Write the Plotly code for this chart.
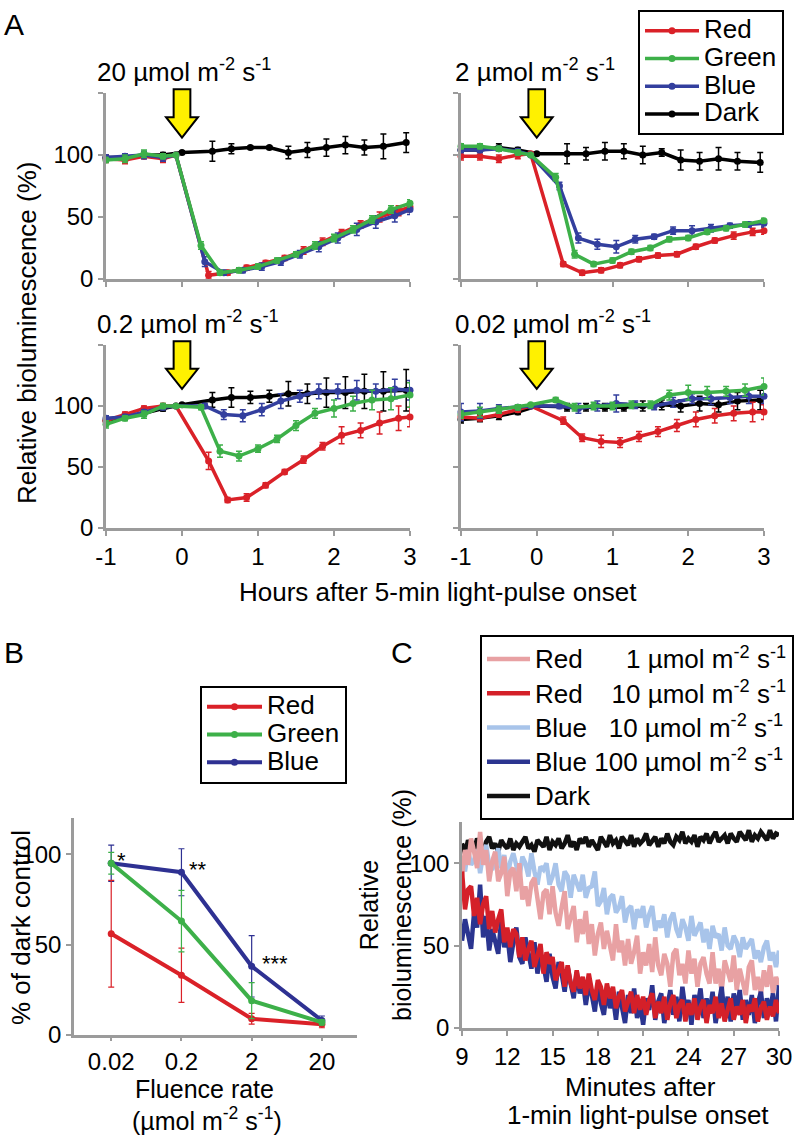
import plotly.graph_objects as go

W, H = 796, 1137
FONT = "Liberation Sans, Arial, Helvetica, sans-serif"
RED, GREEN, BLUE, DARK = "#DA2128", "#3DB049", "#333F9E", "#000000"
GREY = "#9B9B9B"
YELLOW = "#FFF100"

# ---------------- Panel A data (hours after pulse onset, % bioluminescence) ----------------
hours_red = [-1.0, -0.75, -0.5, -0.25, -0.08, 0.35, 0.6, 0.85, 1.1, 1.35, 1.6, 1.85, 2.1, 2.35, 2.6, 2.85, 3.0]
hours_green = [-1.0, -0.75, -0.5, -0.25, -0.08, 0.25, 0.5, 0.75, 1.0, 1.25, 1.5, 1.75, 2.0, 2.25, 2.5, 2.75, 3.0]
hours_blue = [-1.0, -0.75, -0.5, -0.25, -0.08, 0.3, 0.55, 0.8, 1.05, 1.3, 1.55, 1.8, 2.05, 2.3, 2.55, 2.8, 3.0]
hours_dark = [-1.0, -0.75, -0.5, -0.25, 0.0, 0.4, 0.65, 0.9, 1.15, 1.4, 1.65, 1.9, 2.15, 2.4, 2.65, 2.95]
hour_ticks = [-1, 0, 1, 2, 3]
hour_labels = ["-1", "0", "1", "2", "3"]

# 20 umol m-2 s-1
red_20 = [97, 96, 99, 97, 100, 3, 5, 9, 13, 17, 23, 30, 37, 44, 50, 55, 58]
red_20_err = [3, 3, 2, 3, 1, 3, 2, 2, 2, 2, 3, 3, 3, 3, 4, 4, 4]
green_20 = [96, 97, 101, 99, 100, 27, 5, 7, 10, 15, 20, 27, 33, 40, 48, 56, 61]
green_20_err = [2, 3, 3, 2, 1, 3, 2, 2, 2, 2, 2, 3, 3, 3, 3, 3, 3]
blue_20 = [98, 99, 100, 98, 100, 14, 5, 7, 10, 14, 20, 26, 33, 40, 46, 51, 56]
blue_20_err = [2, 2, 3, 3, 1, 4, 2, 2, 3, 3, 3, 4, 4, 5, 5, 5, 4]
dark_20 = [98, 98, 100, 100, 102, 103, 105, 106, 106, 102, 104, 106, 108, 106, 107, 110]
dark_20_err = [2, 2, 2, 2, 1, 8, 4, 1, 1, 5, 6, 7, 7, 6, 10, 8]

# 2 umol m-2 s-1
red_2 = [99, 99, 97, 100, 101, 12, 5, 7, 11, 16, 19, 20, 26, 31, 35, 38, 39]
red_2_err = [3, 3, 3, 3, 1, 2, 2, 2, 2, 2, 2, 2, 2, 2, 3, 3, 3]
green_2 = [107, 107, 105, 102, 100, 82, 20, 12, 15, 22, 25, 32, 33, 38, 41, 44, 47]
green_2_err = [2, 2, 2, 2, 1, 3, 3, 2, 2, 2, 2, 2, 2, 2, 2, 2, 2]
blue_2 = [104, 104, 105, 103, 100, 75, 33, 28, 26, 32, 34, 39, 39, 41, 43, 44, 45]
blue_2_err = [2, 2, 2, 2, 1, 3, 4, 4, 5, 3, 2, 3, 4, 3, 2, 2, 3]
dark_2 = [104, 104, 106, 104, 101, 101, 101, 103, 103, 100, 102, 96, 95, 97, 95, 94]
dark_2_err = [2, 2, 3, 2, 1, 8, 5, 7, 6, 7, 3, 8, 7, 9, 7, 8]

# 0.2 umol m-2 s-1
red_02 = [88, 93, 98, 100, 100, 55, 23, 25, 35, 46, 56, 67, 76, 80, 86, 90, 91]
red_02_err = [2, 2, 2, 2, 1, 7, 2, 3, 2, 2, 3, 3, 7, 6, 9, 10, 8]
green_02 = [85, 90, 93, 100, 100, 99, 63, 59, 65, 73, 84, 94, 98, 102, 105, 106, 109]
green_02_err = [3, 2, 3, 2, 1, 2, 5, 4, 3, 3, 4, 4, 7, 6, 8, 9, 10]
blue_02 = [90, 91, 95, 99, 100, 100, 93, 92, 97, 104, 108, 112, 112, 113, 112, 114, 113]
blue_02_err = [2, 2, 2, 2, 1, 2, 4, 5, 5, 6, 5, 6, 6, 8, 6, 8, 8]
dark_02 = [88, 91, 94, 98, 101, 105, 107, 107, 108, 110, 110, 111, 111, 112, 112, 113]
dark_02_err = [2, 2, 2, 2, 1, 6, 8, 5, 5, 10, 8, 12, 13, 14, 16, 17]

# 0.02 umol m-2 s-1
red_002 = [91, 90, 93, 97, 100, 88, 74, 71, 70, 75, 79, 84, 89, 92, 94, 95, 95]
red_002_err = [2, 2, 2, 2, 1, 3, 3, 5, 4, 4, 4, 5, 6, 6, 6, 8, 6]
green_002 = [93, 95, 97, 99, 101, 105, 99, 100, 100, 101, 101, 109, 111, 111, 112, 113, 116]
green_002_err = [3, 4, 3, 2, 1, 2, 3, 3, 3, 3, 3, 4, 6, 5, 4, 5, 7]
blue_002 = [95, 96, 98, 99, 100, 100, 98, 100, 102, 101, 100, 103, 106, 106, 107, 108, 108]
blue_002_err = [7, 6, 3, 2, 1, 2, 4, 4, 7, 3, 3, 4, 4, 5, 5, 6, 6]
dark_002 = [89, 90, 92, 95, 100, 99, 99, 99, 99, 100, 101, 100, 102, 101, 104, 105]
dark_002_err = [3, 3, 3, 2, 1, 3, 3, 3, 3, 4, 4, 5, 6, 6, 7, 8]

panel_titles = ["20", "2", "0.2", "0.02"]
pulse_onset = 0.0

# ---------------- Panel B data ----------------
fluence = ["0.02", "0.2", "2", "20"]
b_red = [56, 33, 9, 6]
b_red_err = [29.5, 15, 3, 2]
b_green = [95, 63, 19, 7]
b_green_err = [6, 17, 10, 1.5]
b_blue = [95, 90, 38, 8]
b_blue_err = [10, 13, 17, 2.5]
b_stars = ["*", "**", "***"]

# ---------------- Panel C data (minutes after 1-min pulse onset) ----------------
minutes = [9.0, 9.2, 9.4, 9.6, 9.8, 10.0, 10.2, 10.4, 10.6, 10.8,
           11.0, 11.2, 11.4, 11.6, 11.8, 12.0, 12.2, 12.4, 12.6, 12.8,
           13.0, 13.2, 13.4, 13.6, 13.8, 14.0, 14.2, 14.4, 14.6, 14.8,
           15.0, 15.2, 15.4, 15.6, 15.8, 16.0, 16.2, 16.4, 16.6, 16.8,
           17.0, 17.2, 17.4, 17.6, 17.8, 18.0, 18.2, 18.4, 18.6, 18.8,
           19.0, 19.2, 19.4, 19.6, 19.8, 20.0, 20.2, 20.4, 20.6, 20.8,
           21.0, 21.2, 21.4, 21.6, 21.8, 22.0, 22.2, 22.4, 22.6, 22.8,
           23.0, 23.2, 23.4, 23.6, 23.8, 24.0, 24.2, 24.4, 24.6, 24.8,
           25.0, 25.2, 25.4, 25.6, 25.8, 26.0, 26.2, 26.4, 26.6, 26.8,
           27.0, 27.2, 27.4, 27.6, 27.8, 28.0, 28.2, 28.4, 28.6, 28.8,
           29.0, 29.2, 29.4, 29.6, 29.8, 30.0]
minute_ticks = [9, 12, 15, 18, 21, 24, 27, 30]

c_red_1 = [92, 108, 99, 115, 107, 97, 119, 99, 108, 89,
           101, 107, 89, 94, 104, 80, 95, 97, 83, 100,
           78, 86, 74, 88, 91, 77, 66, 82, 84, 69,
           86, 70, 62, 73, 83, 60, 66, 74, 52, 66,
           57, 71, 51, 63, 44, 57, 64, 48, 59, 50,
           41, 63, 46, 53, 38, 54, 39, 46, 56, 33,
           46, 38, 51, 34, 55, 38, 32, 45, 39, 25,
           45, 48, 32, 39, 27, 47, 33, 42, 25, 39,
           43, 33, 27, 46, 27, 36, 22, 41, 33, 28,
           44, 23, 36, 29, 20, 37, 41, 23, 31, 20,
           35, 25, 38, 21, 31, 26]
c_red_10 = [95, 72, 84, 86, 68, 79, 63, 75, 80, 60,
            71, 58, 66, 72, 52, 61, 49, 60, 57, 43,
            55, 41, 48, 53, 37, 44, 51, 33, 46, 39,
            43, 29, 34, 40, 25, 38, 27, 22, 35, 24,
            31, 20, 33, 23, 17, 29, 25, 14, 27, 18,
            25, 12, 19, 23, 10, 16, 22, 9, 20, 11,
            19, 8, 17, 21, 6, 16, 9, 19, 5, 15,
            20, 6, 14, 17, 4, 15, 8, 18, 5, 13,
            17, 3, 14, 9, 19, 6, 15, 4, 12, 18,
            5, 13, 8, 17, 3, 14, 10, 18, 4, 12,
            16, 5, 13, 7, 17, 9]
c_blue_10 = [103, 95, 108, 99, 102, 108, 94, 106, 111, 99,
             96, 104, 109, 97, 105, 91, 101, 106, 97, 91,
             104, 100, 92, 106, 95, 87, 98, 96, 100, 87,
             92, 100, 87, 83, 95, 92, 79, 93, 88, 83,
             93, 79, 85, 86, 95, 74, 77, 85, 69, 79,
             81, 70, 73, 80, 64, 72, 74, 60, 72, 67,
             74, 61, 69, 74, 59, 65, 61, 69, 55, 66,
             70, 60, 55, 66, 61, 53, 68, 56, 60, 64,
             52, 60, 48, 62, 55, 57, 47, 61, 50, 48,
             56, 52, 43, 55, 48, 51, 54, 42, 47, 40,
             49, 53, 41, 46, 37, 47]
c_blue_100 = [53, 66, 57, 48, 70, 61, 87, 55, 68, 47,
              60, 51, 45, 66, 49, 57, 40, 52, 61, 43,
              39, 55, 47, 36, 52, 33, 44, 38, 28, 45,
              31, 24, 40, 33, 22, 37, 27, 18, 34, 21,
              29, 14, 26, 20, 10, 27, 15, 8, 24, 12,
              19, 5, 22, 14, 3, 20, 9, 24, 6, 15,
              2, 18, 11, 26, 5, 16, 21, 3, 14, 23,
              8, 19, 4, 25, 11, 17, 2, 20, 13, 24,
              6, 18, 9, 22, 3, 16, 25, 7, 19, 4,
              21, 12, 23, 5, 17, 8, 20, 3, 15, 22,
              6, 18, 10, 21, 4, 26]
c_dark = [112, 106, 114, 110, 108, 115, 111, 107, 113, 116,
          109, 112, 107, 114, 111, 109, 115, 108, 112, 110,
          113, 116, 109, 111, 107, 114, 112, 110, 116, 108,
          113, 111, 115, 109, 112, 117, 110, 113, 108, 115,
          112, 116, 110, 114, 111, 108, 116, 113, 110, 117,
          112, 114, 109, 116, 113, 111, 117, 110, 115, 112,
          114, 118, 111, 113, 116, 110, 115, 112, 118, 113,
          111, 116, 114, 119, 112, 115, 113, 117, 110, 116,
          114, 118, 112, 116, 119, 113, 115, 117, 112, 118,
          115, 113, 119, 116, 114, 120, 113, 117, 115, 119,
          116, 114, 120, 115, 118, 117]

# ---------------- helpers (layout only) ----------------
def xdom(x0, x1):
    return [x0 / W, x1 / W]

def ydom(top, bottom):
    return [1 - bottom / H, 1 - top / H]

def px(x):
    return x / W

def py(y):
    return 1 - y / H

def axis(**kw):
    d = dict(showline=True, linecolor=GREY, linewidth=2.5, ticks="outside", tickcolor=GREY,
             tickwidth=2, ticklen=5, showgrid=False, zeroline=False, fixedrange=True, automargin=False,
             tickfont=dict(family=FONT, size=24, color="black"))
    d.update(kw)
    return d

UNIT = " µmol m<sup>-2</sup> s<sup>-1</sup>"

def big(s):
    return '<span style="font-size:26px">' + s + '</span>'

fig = go.Figure()

# ---------------- Panel A traces ----------------
panelA = [
    ("x", "y", red_20, red_20_err, green_20, green_20_err, blue_20, blue_20_err, dark_20, dark_20_err),
    ("x2", "y2", red_2, red_2_err, green_2, green_2_err, blue_2, blue_2_err, dark_2, dark_2_err),
    ("x3", "y3", red_02, red_02_err, green_02, green_02_err, blue_02, blue_02_err, dark_02, dark_02_err),
    ("x4", "y4", red_002, red_002_err, green_002, green_002_err, blue_002, blue_002_err, dark_002, dark_002_err),
]
for k, (xa, ya, r, re, g, ge, b, be, d, de) in enumerate(panelA):
    series = [
        ("Dark", hours_dark, d, de, DARK, 4),
        ("Red", hours_red, r, re, RED, 1),
        ("Blue", hours_blue, b, be, BLUE, 3),
        ("Green", hours_green, g, ge, GREEN, 2),
    ]
    for name, xs, ys, es, col, rank in series:
        fig.add_trace(go.Scatter(
            x=xs, y=ys, xaxis=xa, yaxis=ya, mode="lines+markers", name=big(name),
            line=dict(color=col, width=3.5), marker=dict(color=col, size=7),
            error_y=dict(type="data", array=es, color=col, thickness=1.5, width=3),
            showlegend=(k == 0), legend="legend", legendrank=rank, cliponaxis=False,
        ))

# ---------------- Panel B traces ----------------
for name, ys, es, col, rank in [("Blue", b_blue, b_blue_err, "#2E3192", 3),
                                ("Red", b_red, b_red_err, RED, 1),
                                ("Green", b_green, b_green_err, GREEN, 2)]:
    fig.add_trace(go.Scatter(
        x=fluence, y=ys, xaxis="x5", yaxis="y5", mode="lines+markers", name=big(name),
        line=dict(color=col, width=4), marker=dict(color=col, size=7),
        error_y=dict(type="data", array=es, color=col, thickness=1.2, width=3),
        legend="legend2", legendrank=rank, cliponaxis=False,
    ))

# ---------------- Panel C traces ----------------
NB = "\u00a0"
c_series = [
    ("Dark", c_dark, "#111111", 5),
    ("Blue" + NB * 3 + "10" + UNIT, c_blue_10, "#A8C4EA", 3),
    ("Red" + NB * 6 + "1" + UNIT, c_red_1, "#E8A1A3", 1),
    ("Blue" + NB + "100" + UNIT, c_blue_100, "#2B3590", 4),
    ("Red" + NB * 4 + "10" + UNIT, c_red_10, "#D42029", 2),
]
for name, ys, col, rank in c_series:
    fig.add_trace(go.Scatter(
        x=minutes, y=ys, xaxis="x6", yaxis="y6", mode="lines", name=big(name),
        line=dict(color=col, width=4.5), legend="legend3", legendrank=rank,
    ))

# ---------------- Axes ----------------
AX = [(106, 410), (461, 764)]
AY = [(93, 279), (345, 528)]
layout_axes = {}
for k in range(4):
    col, row = k % 2, k // 2
    n = "" if k == 0 else str(k + 1)
    layout_axes["xaxis" + n] = axis(domain=xdom(*AX[col]), range=[-1, 3], tickvals=hour_ticks,
                                    ticktext=hour_labels, showticklabels=(row == 1), anchor="y" + n)
    layout_axes["yaxis" + n] = axis(domain=ydom(*AY[row]), range=[0, 150], tickvals=[0, 50, 100, 150],
                                    ticktext=["0", "50", "100", ""], showticklabels=(col == 0),
                                    anchor="x" + n)
layout_axes["xaxis5"] = axis(domain=xdom(74, 357), type="category", range=[-0.53, 3.5], ticklen=3,
                             categoryorder="array", categoryarray=fluence, anchor="y5")
layout_axes["yaxis5"] = axis(domain=ydom(818, 1035), range=[0, 120], tickvals=[0, 50, 100], anchor="x5")
layout_axes["xaxis6"] = axis(domain=xdom(462, 779), range=[9, 30], tickvals=minute_ticks, anchor="y6")
layout_axes["yaxis6"] = axis(domain=ydom(822, 1028), range=[0, 125], tickvals=[0, 50, 100], anchor="x6")

# ---------------- Arrows (pulse onset markers) ----------------
shapes = []
sw, hw, top, hs, tip = 0.11, 0.21, 1.02, 0.87, 0.76
for k in range(4):
    n = "" if k == 0 else str(k + 1)
    x0 = pulse_onset
    path = (f"M {x0 - sw},{top} L {x0 + sw},{top} L {x0 + sw},{hs} L {x0 + hw},{hs} "
            f"L {x0},{tip} L {x0 - hw},{hs} L {x0 - sw},{hs} Z")
    shapes.append(dict(type="path", path=path, xref="x" + n, yref="y" + n + " domain",
                       fillcolor=YELLOW, line=dict(color="black", width=2), layer="above"))

# ---------------- Annotations ----------------
def text(x, y, s, size=26, xanchor="center", yanchor="middle", angle=0):
    return dict(x=px(x), y=py(y), xref="paper", yref="paper", text=s, showarrow=False,
                xanchor=xanchor, yanchor=yanchor, textangle=angle,
                font=dict(family=FONT, size=size, color="black"))

ann = [
    text(14, 25, "A", size=30),
    text(14, 652, "B", size=30),
    text(402, 652, "C", size=30),
    text(95, 71, panel_titles[0] + UNIT, xanchor="left"),
    text(453, 71, panel_titles[1] + UNIT, xanchor="left"),
    text(95, 322, panel_titles[2] + UNIT, xanchor="left"),
    text(453, 322, panel_titles[3] + UNIT, xanchor="left"),
    text(27, 333, "Relative bioluminescence (%)", angle=-90),
    text(438, 592, "Hours after 5-min light-pulse onset"),
    text(21, 928, "% of dark control", angle=-90),
    text(205, 1089, "Fluence rate", size=25),
    text(207, 1119, "(µmol m<sup>-2</sup> s<sup>-1</sup>)", size=25),
    text(385, 905, "Relative<br>bioluminescence (%)", size=25, angle=-90),
    text(640, 1087, "Minutes after"),
    text(638, 1115, "1-min light-pulse onset"),
]
for i, star in enumerate(b_stars):
    ann.append(dict(x=i, y=b_blue[i], xref="x5", yref="y5", text=star, showarrow=False,
                    xanchor="left", yanchor="middle", xshift=4 + 2 * i, yshift=3,
                    font=dict(family=FONT, size=22, color="black")))

legend_common = dict(bgcolor="white", bordercolor="black", borderwidth=2, xanchor="left", yanchor="top",
                     itemclick=False, itemdoubleclick=False, tracegroupgap=0)

fig.update_layout(
    template="none",
    width=W, height=H, margin=dict(l=0, r=0, t=0, b=0, autoexpand=False),
    paper_bgcolor="white", plot_bgcolor="white",
    font=dict(family=FONT, size=24, color="black"),
    shapes=shapes, annotations=ann, showlegend=True, hovermode=False,
    legend=dict(x=px(638), y=py(10), itemwidth=54,
                font=dict(family=FONT, size=19, color="black"), **legend_common),
    legend2=dict(x=px(200), y=py(686), itemwidth=55,
                 font=dict(family=FONT, size=19, color="black"), **legend_common),
    legend3=dict(x=px(480), y=py(635), itemwidth=43,
                 font=dict(family=FONT, size=24, color="black"), **legend_common),
    **layout_axes,
)

fig.write_html("out.html", config={"displayModeBar": False},
               post_script="document.body.style.margin='0px';document.body.style.overflow='hidden';")
